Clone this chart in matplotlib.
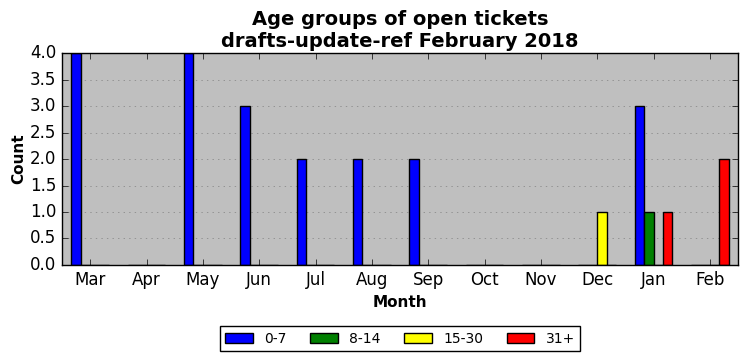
import numpy as np
import matplotlib
matplotlib.use('Agg')
import matplotlib.pyplot as plt

plt.style.use('classic')

months = ['Mar', 'Apr', 'May', 'Jun', 'Jul', 'Aug', 'Sep', 'Oct', 'Nov', 'Dec', 'Jan', 'Feb']
age_0_7 = [4, 0, 4, 3, 2, 2, 2, 0, 0, 0, 3, 0]
age_8_14 = [0, 0, 0, 0, 0, 0, 0, 0, 0, 0, 1, 0]
age_15_30 = [0, 0, 0, 0, 0, 0, 0, 0, 0, 1, 0, 0]
age_31 = [0, 0, 0, 0, 0, 0, 0, 0, 0, 0, 1, 2]

series = [(age_0_7, '0-7', 'blue'), (age_8_14, '8-14', 'green'),
          (age_15_30, '15-30', 'yellow'), (age_31, '31+', 'red')]

fig = plt.figure(figsize=(7.47, 3.61), dpi=100)
fig.patch.set_facecolor('white')
ax = fig.add_axes([0.083, 0.266, 0.905, 0.587])
ax.set_facecolor('#bfbfbf')

x = np.arange(len(months))
w = 1.0 / 6
for k, (vals, name, col) in enumerate(series):
    ax.bar(x + (k - 2) * w, vals, w, align='edge', color=col,
           edgecolor='black', label=name)

ax.set_xlim(-0.5, 11.5)
ax.set_ylim(0, 4)
ax.set_xticks(x)
ax.set_xticklabels(months, fontsize=12)
ax.set_yticks(np.arange(0, 4.01, 0.5))
ax.set_yticklabels(['%.1f' % v for v in np.arange(0, 4.01, 0.5)], fontsize=12)
ax.yaxis.grid(True, linestyle=':', color='gray')
ax.set_axisbelow(True)

ax.set_title('Age groups of open tickets\ndrafts-update-ref February 2018',
             fontsize=14, fontweight='bold', y=0.995)
ax.set_xlabel('Month', fontsize=11, fontweight='bold')
ax.set_ylabel('Count', fontsize=11, fontweight='bold', labelpad=3)

ax.legend(loc='upper center', bbox_to_anchor=(0.5, -0.255), ncol=4,
          fontsize=10, frameon=True, fancybox=False, columnspacing=1.7)

fig.savefig('out.png', dpi=100, facecolor='white')
